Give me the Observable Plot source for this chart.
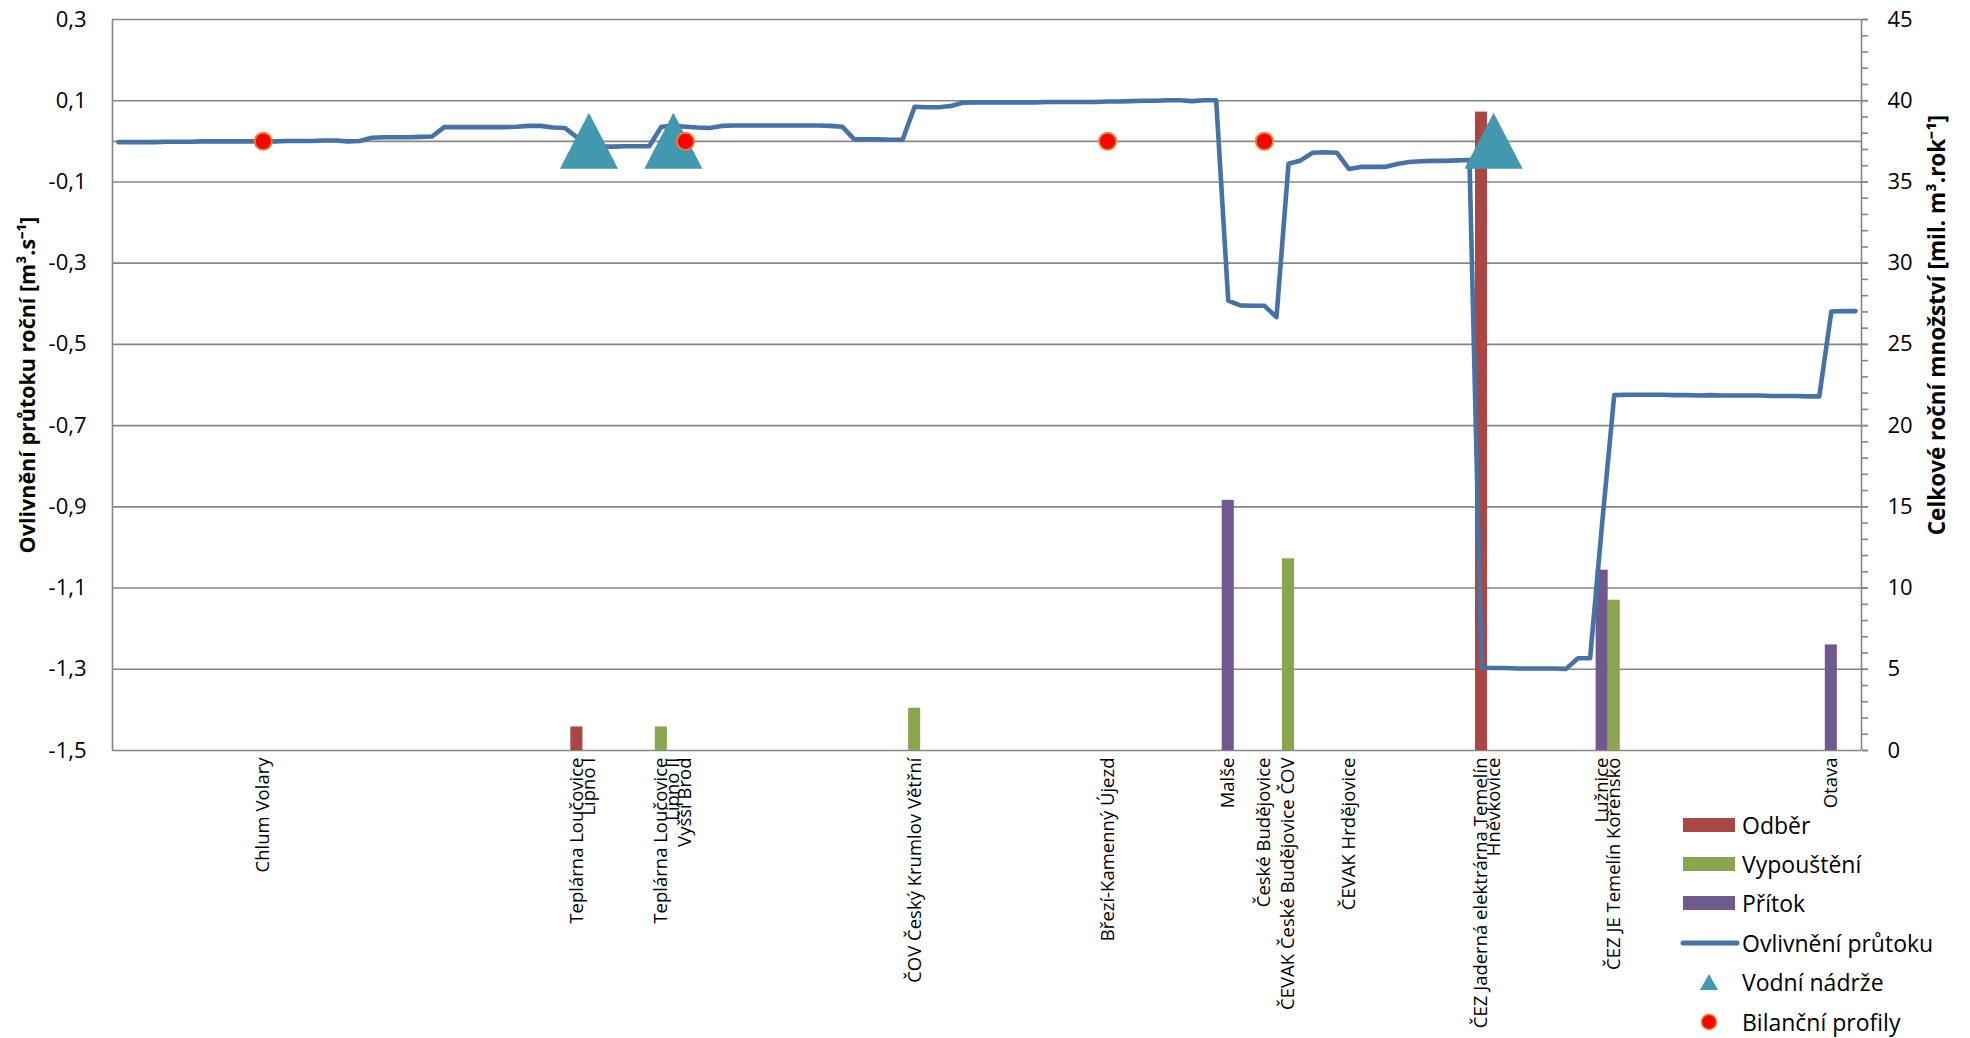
<!DOCTYPE html>
<html>
<head>
<meta charset="utf-8">
<script src="https://cdn.jsdelivr.net/npm/d3@7"></script>
<script src="https://cdn.jsdelivr.net/npm/@observablehq/plot@0.6"></script>
<style>
  html, body { margin: 0; padding: 0; background: #fff; overflow: hidden; }
  #wrap { position: relative; width: 1970px; height: 1038px; font-family: "Open Sans", sans-serif; }
  #legend { position: absolute; left: 1680px; top: 805px; font-size: 23px; color: #000; }
  #legend .row { height: 39.4px; display: flex; align-items: center; white-space: nowrap; }
  #legend svg { flex: none; }
</style>
</head>
<body>
<div id="wrap"></div>
<script>
// ---- data ----
const nCategories = 145;
const labelPositions = [12, 38, 39, 45, 46, 47, 66, 82, 92, 95, 97, 102, 113, 114, 123, 124, 142];
const labelNames = [
  "Chlum Volary", "Teplárna Loučovice", "Lipno I", "Teplárna Loučovice", "Lipno II", "Vyšší Brod",
  "ČOV Český Krumlov Větřní", "Březí-Kamenný Újezd", "Malše", "České Budějovice",
  "ČEVAK České Budějovice ČOV", "ČEVAK Hrdějovice", "ČEZ Jaderná elektrárna Temelín", "Hněvkovice",
  "Lužnice", "ČEZ JE Temelín Kořensko", "Otava"
];
// Ovlivnění průtoku [m3/s], one value per category (0..144)
const flowChange = [
  -0.002, -0.002, -0.002, -0.002, -0.001, -0.001, -0.001, 0.000, 0.000, 0.000,
   0.000,  0.000,  0.000,  0.000,  0.001,  0.001,  0.001, 0.002, 0.002, 0.000,
   0.001,  0.009,  0.010,  0.010,  0.010,  0.011,  0.012, 0.035, 0.035, 0.035,
   0.035,  0.035,  0.035,  0.036,  0.038,  0.038,  0.034, 0.033, 0.010, -0.012,
  -0.013, -0.013, -0.012, -0.012, -0.012,  0.036,  0.038, 0.036, 0.034, 0.033,
   0.038,  0.039,  0.039,  0.039,  0.039,  0.039,  0.039, 0.039, 0.039, 0.038,
   0.036,  0.005,  0.005,  0.005,  0.004,  0.004,  0.085, 0.084, 0.084, 0.087,
   0.095,  0.096,  0.096,  0.096,  0.096,  0.096,  0.096, 0.097, 0.097, 0.097,
   0.097,  0.097,  0.098,  0.098,  0.099,  0.100,  0.100, 0.101, 0.101, 0.099,
   0.101,  0.101, -0.392, -0.404, -0.405, -0.405, -0.433, -0.055, -0.047, -0.028,
  -0.027, -0.028, -0.068, -0.063, -0.063, -0.063, -0.056, -0.051, -0.049, -0.048,
  -0.048, -0.047, -0.046, -1.296, -1.297, -1.297, -1.298, -1.298, -1.298, -1.298,
  -1.299, -1.273, -1.273, -0.940, -0.625, -0.624, -0.624, -0.624, -0.624, -0.625,
  -0.625, -0.626, -0.625, -0.626, -0.626, -0.626, -0.626, -0.627, -0.627, -0.627,
  -0.628, -0.628, -0.419, -0.418, -0.418
];
// Celkové roční množství [mil. m3/rok]
const odberIdx = [38, 113];
const odberVal = [1.45, 39.3];
const vypousteniIdx = [45, 66, 97, 124];
const vypousteniVal = [1.45, 2.6, 11.8, 9.25];
const pritokIdx = [92, 123, 142];
const pritokVal = [15.4, 11.1, 6.5];
const reservoirIdx = [39, 46, 114];
const profileIdx = [12, 47, 82, 95];

const leftTicks = [-1.5, -1.3, -1.1, -0.9, -0.7, -0.5, -0.3, -0.1, 0.1, 0.3];
const rightTicks = [0, 5, 10, 15, 20, 25, 30, 35, 40, 45];
const rightMinorTicks = d3.range(0, 46, 1);

const seriesNames = ["Odběr", "Vypouštění", "Přítok", "Ovlivnění průtoku", "Vodní nádrže", "Bilanční profily"];
const seriesColors = ["#AA4643", "#89A54E", "#71588F", "#4572A7", "#4198AF", "#FF0000"];
const leftTitle = "Ovlivnění průtoku roční [m³.s⁻¹]";
const rightTitle = "Celkové roční množství [mil. m³.rok⁻¹]";

// ---- helpers ----
const leftMin = -1.5, leftMax = 0.3, rightMax = 45;
const toLeft = v => leftMin + v * (leftMax - leftMin) / rightMax;
const fmtComma = d => d.toFixed(1).replace(".", ",");
const gridColor = "#868686";

const bars = (idx, vals) => idx.map((i, k) => ({i, v: vals[k]}));
const triangle = {
  draw(context, size) {
    const r = Math.sqrt(size / Math.PI);
    context.moveTo(0, -r);
    context.lineTo(r * 1.02, r * 0.96);
    context.lineTo(-r * 1.02, r * 0.96);
    context.closePath();
  }
};

const barMark = (data, fill) => Plot.rect(data, {
  x1: d => d.i - 0.5, x2: d => d.i + 0.5,
  y1: () => leftMin, y2: d => toLeft(d.v),
  fill, inset: 0
});

const chart = Plot.plot({
  width: 1970,
  height: 1038,
  marginLeft: 112,
  marginRight: 109,
  marginTop: 19,
  marginBottom: 288,
  style: {fontFamily: "Open Sans", fontSize: "22px", color: "#000", background: "#fff"},
  x: {type: "linear", domain: [-0.5, nCategories - 0.5]},
  y: {domain: [leftMin, leftMax]},
  marks: [
    Plot.ruleY(leftTicks.concat([0]), {stroke: gridColor, strokeWidth: 1.6}),
    Plot.ruleX([-0.5, nCategories - 0.5], {stroke: gridColor, strokeWidth: 1.6}),
    Plot.axisY({anchor: "left", ticks: leftTicks, tickSize: 0, tickPadding: 26, tickFormat: fmtComma, label: null, fontSize: 22}),
    Plot.axisY({anchor: "right", ticks: rightMinorTicks.map(toLeft), tickSize: 6, tickFormat: () => "", stroke: gridColor, strokeWidth: 1.6, label: null}),
    Plot.axisY({anchor: "right", ticks: rightTicks.map(toLeft), tickSize: 6, tickPadding: 20, stroke: gridColor, strokeWidth: 1.6,
      tickFormat: d => String(Math.round((d - leftMin) * rightMax / (leftMax - leftMin))), label: null, fontSize: 22}),
    Plot.axisX({ticks: labelPositions, tickFormat: i => labelNames[labelPositions.indexOf(i)], tickRotate: -90,
      tickSize: 0, tickPadding: 7, fontSize: 18.5, label: null}),
    barMark(bars(odberIdx, odberVal), seriesColors[0]),
    barMark(bars(vypousteniIdx, vypousteniVal), seriesColors[1]),
    barMark(bars(pritokIdx, pritokVal), seriesColors[2]),
    Plot.line(flowChange, {x: (d, i) => i, y: d => d, stroke: seriesColors[3], strokeWidth: 4.6,
      strokeLinejoin: "round", strokeLinecap: "round"}),
    Plot.dot(reservoirIdx, {x: d => d, y: () => 0, symbol: triangle, r: 28.5, fill: seriesColors[4], stroke: "none"}),
    Plot.dot(profileIdx, {x: d => d, y: () => 0, r: 8.6, fill: seriesColors[5], stroke: "#E8832E", strokeWidth: 1.8}),
    Plot.text([leftTitle], {frameAnchor: "left", dx: -84, rotate: -90, fontWeight: "bold", fontSize: 21.5,
      textAnchor: "middle", lineAnchor: "middle", text: d => d}),
    Plot.text([rightTitle], {frameAnchor: "right", dx: 76, dy: -60, rotate: -90, fontWeight: "bold", fontSize: 22.5,
      textAnchor: "middle", lineAnchor: "middle", text: d => d})
  ]
});

const wrap = document.getElementById("wrap");
wrap.appendChild(chart);

// ---- legend ----
const legend = document.createElement("div");
legend.id = "legend";
const swatch = k => {
  const c = seriesColors[k];
  if (k < 3) return `<svg width="62" height="20"><rect x="3" y="3" width="52" height="14" fill="${c}"/></svg>`;
  if (k === 3) return `<svg width="62" height="20"><line x1="3" y1="10" x2="57" y2="10" stroke="${c}" stroke-width="5" stroke-linecap="round"/></svg>`;
  if (k === 4) return `<svg width="62" height="20"><path d="M29,2 L38,18 L20,18 Z" fill="${c}"/></svg>`;
  return `<svg width="62" height="20"><circle cx="29" cy="10" r="7.5" fill="${c}" stroke="#E8832E" stroke-width="1.6"/></svg>`;
};
legend.innerHTML = seriesNames.map((n, k) => `<div class="row">${swatch(k)}<span>${n}</span></div>`).join("");
wrap.appendChild(legend);
</script>
</body>
</html>
